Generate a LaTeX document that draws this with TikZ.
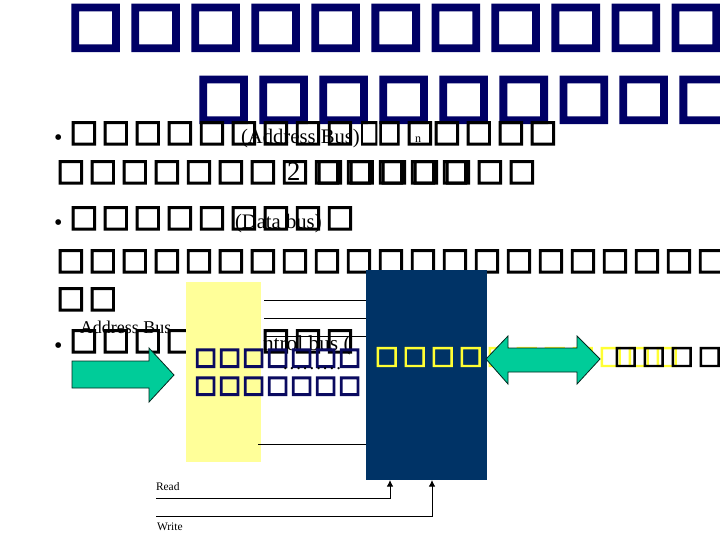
\documentclass[tikz,border=0pt]{standalone}
\usepackage{fontspec}
\usepackage{graphicx}
\usetikzlibrary{arrows.meta}
\setmainfont{Liberation Serif}
\newfontfamily\tofutitle{DejaVu Sans}[FakeBold=7.9]
\newfontfamily\tofubody{DejaVu Sans}[FakeBold=4]
\newfontfamily\tofumem{DejaVu Sans}[FakeBold=6.7]
\newfontfamily\tofucpu{DejaVu Sans}[FakeBold=4]
\definecolor{titlenavy}{HTML}{000066}
\definecolor{memnavy}{HTML}{0A0A60}
\definecolor{cpunavy}{HTML}{003366}
\definecolor{paleyellow}{HTML}{FFFF99}
\definecolor{seagreen}{HTML}{00CC99}
\definecolor{brightyellow}{HTML}{FFFF33}
% font switch, size in px, pitch in px, count (1px = .75pt)
\newcommand{\tofusz}[4]{{#1\fontsize{\dimexpr #2pt*3/4\relax}{#2pt}\selectfont\foreach \k in {1,...,#4}{\makebox[\dimexpr #3pt*3/4\relax][l]{□}}}}
\newcommand{\tofunarrow}[1]{{\tofubody\fontsize{22.65pt}{30pt}\selectfont\scalebox{#1}[1]{□}}}
\tikzset{
  glyphs/.style={anchor=base west,inner sep=0pt,outer sep=0pt},
  serif/.style={anchor=base west,inner sep=0pt,outer sep=0pt,text=black},
  bulletmark/.style={anchor=base west,inner sep=0pt,outer sep=0pt,text=black,font=\fontsize{18pt}{20pt}\selectfont},
  busline/.style={draw=black,line width=.6pt},
  ctlline/.style={draw=black,line width=.7pt,-{Latex[length=5pt,width=5pt]}},
  fatarrow/.style={draw=black!80!seagreen,line width=.6pt,fill=seagreen},
  block/.style={draw=none,anchor=north west,inner sep=0pt},
}
\begin{document}
\begin{tikzpicture}[x=.75pt,y=-.75pt]
\useasboundingbox (0,0) rectangle (720,540);
\fill[white] (0,0) rectangle (720,540);
% title
\node[glyphs,text=titlenavy] (title1) at (68.5,42.8) {\tofusz{\tofutitle}{57.6}{60}{11}};
\node[glyphs,text=titlenavy] (title2) at (196.5,114.8) {\tofusz{\tofutitle}{57.6}{60}{9}};
% body
\node[bulletmark] (b1) at (54,145) {•};
\node[glyphs] (r1a) at (69.6,141.2) {\tofusz{\tofubody}{30.2}{32}{9}};
\node[glyphs] (r1b) at (359.6,141.2) {\tofunarrow{.67}};
\node[glyphs] (r1bb) at (377.6,141.2) {\tofunarrow{.83}};
\node[glyphs] (r1c) at (405.6,141.2) {\tofusz{\tofubody}{30.2}{32}{1}};
\node[glyphs] (r1d) at (432.6,141.2) {\tofusz{\tofubody}{30.2}{32}{4}};
\node[serif,font=\fontsize{15.5pt}{18pt}\selectfont] (addrbus) at (241,143) {(Address Bus)};
\node[serif,font=\fontsize{9pt}{10pt}\selectfont] (nlabel) at (415,142) {n};
\node[glyphs] (r2a) at (56.6,180.2) {\tofusz{\tofubody}{30.2}{32}{13}};
\node[glyphs] (r2b) at (315.6,180.2) {\tofusz{\tofubody}{30.2}{32}{7}};
\node[serif,font=\fontsize{20pt}{22pt}\selectfont] (two) at (287,180) {2};
\node[serif,font=\fontsize{5pt}{6pt}\selectfont] (twon) at (304,172) {n};
\node[bulletmark] (b2) at (54,230) {•};
\node[glyphs] (r3) at (69.6,226.2) {\tofusz{\tofubody}{30.2}{32}{9}};
\node[serif,font=\fontsize{15.5pt}{18pt}\selectfont] (databus) at (235,228) {(Data bus)};
\node[glyphs] (r4) at (56.6,269.2) {\tofusz{\tofubody}{30.2}{32}{21}};
\node[glyphs] (r5) at (56.6,307.2) {\tofusz{\tofubody}{30.2}{32}{2}};
\node[bulletmark] (b3) at (54,353) {•};
\node[glyphs] (r6) at (69.6,349.2) {\tofusz{\tofubody}{30.2}{32}{9}};
\node[serif,font=\fontsize{13.5pt}{16pt}\selectfont] (addrlabel) at (80,333) {Address Bus};
\node[serif,font=\fontsize{16pt}{18pt}\selectfont] (ctrl) at (263,350) {ntrol bus (};
% memory block
\node[block,fill=paleyellow,minimum width=56.25pt,minimum height=135pt] (mem) at (186,282) {};
\coordinate (m1) at (264,300); \coordinate (m2) at (264,318); \coordinate (m3) at (264,336); \coordinate (m4) at (258,444);
% cpu block
\node[block,fill=cpunavy,minimum width=90.75pt,minimum height=157.5pt] (cpu) at (366,270) {};
\draw[busline] (m1) -- (m1 -| cpu.west);
\draw[busline] (m2) -- (m2 -| cpu.west);
\draw[busline] (m3) -- (m3 -| cpu.west);
\draw[busline] (m4) -- (m4 -| cpu.west);
\coordinate (readstart) at (156,498);
\coordinate (writestart) at (156,516);
\coordinate (readtip) at (390,480);
\coordinate (writetip) at (432,480);
\draw[ctlline] (readstart) -| (readtip);
\draw[ctlline] (writestart) -| (writetip);
\node[serif,font=\fontsize{8.6pt}{10pt}\selectfont] (readlabel) at (156,490) {Read};
\node[serif,font=\fontsize{8.6pt}{10pt}\selectfont] (writelabel) at (157,530) {Write};
% labels inside
\node[glyphs,text=memnavy] (memA) at (194.4,364.4) {\tofusz{\tofumem}{23.7}{24}{7}};
\node[glyphs,text=memnavy] (memB) at (194.4,392.4) {\tofusz{\tofumem}{23.7}{24}{7}};
\node[serif,font=\fontsize{14pt}{16pt}\selectfont] (dots) at (283,369) {\foreach \k in {1,...,9}{\makebox[5pt][l]{.}}};
\node[glyphs,text=brightyellow] (cpuA) at (374.8,363.6) {\tofusz{\tofucpu}{25.3}{28}{11}};
% arrows
\draw[fatarrow] (72,361) -- (149,361) -- (149,348) -- (174,375) -- (149,402) -- (149,388) -- (72,388) -- cycle;
\draw[fatarrow] (486,359) -- (508,336) -- (508,348) -- (577,348) -- (577,336) -- (600,359) -- (577,384) -- (577,372) -- (508,372) -- (508,384) -- cycle;
\node[glyphs] (ioA) at (613.8,363.6) {\tofusz{\tofucpu}{25.3}{28}{4}};
\end{tikzpicture}
\end{document}
